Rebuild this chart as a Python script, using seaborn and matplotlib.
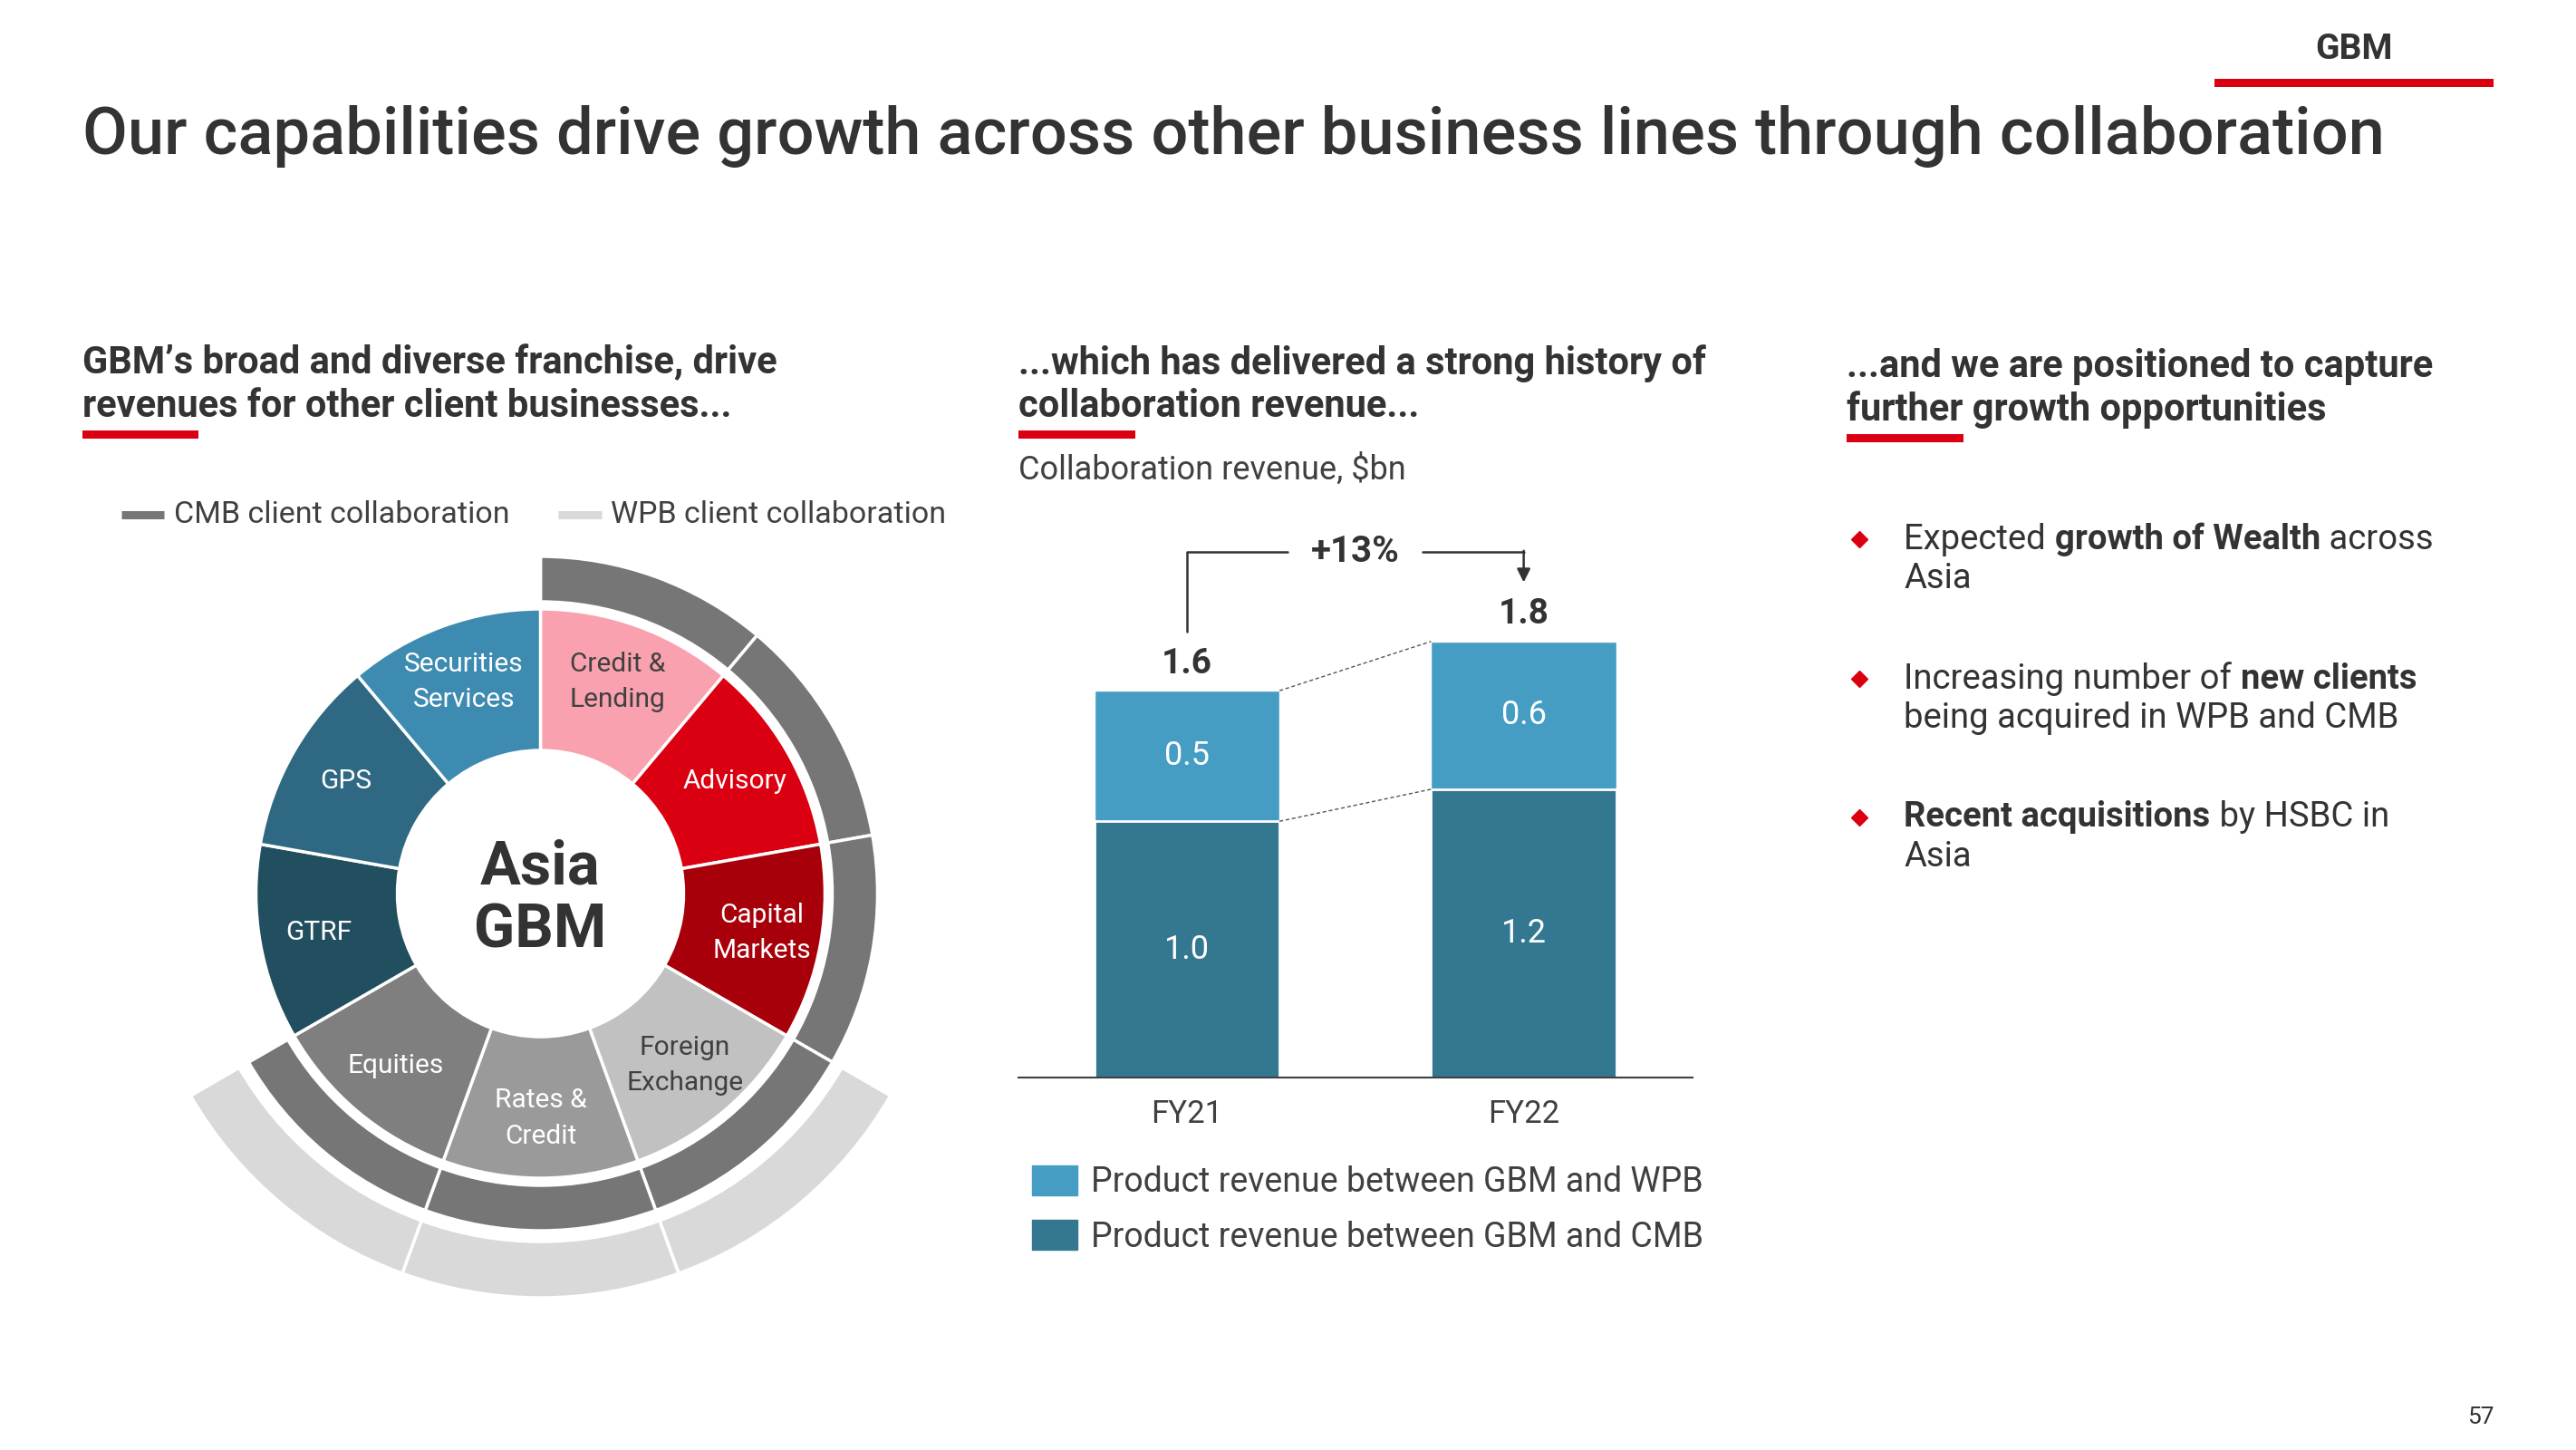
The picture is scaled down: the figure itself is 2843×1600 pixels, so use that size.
import numpy as np
import pandas as pd
import seaborn as sns
import matplotlib.pyplot as plt
from matplotlib.patches import Rectangle, Patch

#%%
# data
segments = ['Credit &\nLending', 'Advisory', 'Capital\nMarkets', 'Foreign\nExchange',
            'Rates &\nCredit', 'Equities', 'GTRF', 'GPS', 'Securities\nServices']
segment_share = [1, 1, 1, 1, 1, 1, 1, 1, 1]
segment_colors = ['#F9A1AE', '#DB0011', '#A8000B', '#C1C1C1', '#9A9A9A',
                  '#7F7F7F', '#224F5F', '#2E6883', '#3D8BB0']
segment_text = ['#404040', 'white', 'white', '#404040', 'white',
                'white', 'white', 'white', 'white']
cmb_collab = [1, 1, 1, 1, 1, 1, 0, 0, 0]
wpb_collab = [0, 0, 0, 1, 1, 1, 0, 0, 0]

years = ['FY21', 'FY22']
cmb_rev = [1.04, 1.17]
wpb_rev = [0.53, 0.60]
cmb_lbl = ['1.0', '1.2']
wpb_lbl = ['0.5', '0.6']
total_lbl = ['1.6', '1.8']

RED = '#DB0011'
DARK = '#333333'
CMB_GREY = '#767676'
WPB_GREY = '#D9D9D9'
WPB_BLUE = '#469DC4'
CMB_BLUE = '#347791'

sns.set_theme(style='white')
plt.rcParams['font.family'] = ['Roboto', 'DejaVu Sans']

fig = plt.figure(figsize=(28.43, 16), dpi=100, facecolor='white')

#%%
# donut: inner franchise ring + CMB / WPB collaboration rings (pixel units)
cx, cy, half = 596.5, 986, 470
ax_d = fig.add_axes([(cx - half) / 2843, 1 - (cy + half) / 1600, 2 * half / 2843, 2 * half / 1600])
ax_d.pie(segment_share, radius=314, colors=segment_colors, startangle=90, counterclock=False,
         wedgeprops=dict(width=156, edgecolor='white', linewidth=2.5))
ax_d.pie(segment_share, radius=372, startangle=90, counterclock=False,
         colors=[CMB_GREY if c else 'none' for c in cmb_collab],
         wedgeprops=dict(width=50, edgecolor='white', linewidth=2.5))
ax_d.pie(segment_share, radius=446, startangle=90, counterclock=False,
         colors=[WPB_GREY if c else 'none' for c in wpb_collab],
         wedgeprops=dict(width=62, edgecolor='white', linewidth=2.5))
ax_d.set_xlim(-half, half)
ax_d.set_ylim(-half, half)
ax_d.axis('off')

cum = np.cumsum(segment_share)
mids = 90 - 360 * (cum - np.array(segment_share) / 2) / cum[-1]
for name, ang, col in zip(segments, mids, segment_text):
    r = 248
    ax_d.text(r * np.cos(np.radians(ang)), r * np.sin(np.radians(ang)), name,
              ha='center', va='center', fontsize=21.5, color=col, linespacing=1.5)
ax_d.text(0, 28, 'Asia', ha='center', va='center', fontsize=48, fontweight='bold', color=DARK)
ax_d.text(0, -42, 'GBM', ha='center', va='center', fontsize=48, fontweight='bold', color=DARK)

#%%
# stacked bar chart of collaboration revenue
ax_b = fig.add_axes([1124 / 2843, 1 - 1189 / 1600, 743.5 / 2843, 609 / 1600])
ax_b.set_facecolor('none')
df = pd.DataFrame({'year': years, 'cmb': cmb_rev, 'wpb': wpb_rev})
df['total'] = df['cmb'] + df['wpb']
bw = 0.55
sns.barplot(data=df, x='year', y='total', color=WPB_BLUE, saturation=1, width=bw, ax=ax_b)
sns.barplot(data=df, x='year', y='cmb', color=CMB_BLUE, saturation=1, width=bw, ax=ax_b,
            edgecolor='white', linewidth=2)
ax_b.plot([bw / 2, 1 - bw / 2], df['total'], ls=(0, (3, 2)), color='#555555', lw=1)
ax_b.plot([bw / 2, 1 - bw / 2], df['cmb'], ls=(0, (3, 2)), color='#555555', lw=1)
for i, row in df.iterrows():
    ax_b.text(i, row['cmb'] / 2, cmb_lbl[i], ha='center', va='center', fontsize=26, color='white')
    ax_b.text(i, row['cmb'] + row['wpb'] / 2, wpb_lbl[i], ha='center', va='center', fontsize=26, color='white')
    ax_b.text(i, row['total'] + 0.11, total_lbl[i], ha='center', va='center', fontsize=28,
              fontweight='bold', color=DARK)

# growth bracket
top = 2.133
growth = (df['total'].iloc[1] / df['total'].iloc[0] - 1) * 100
ax_b.plot([0, 0, 0.30], [df['total'].iloc[0] + 0.24, top, top], color=DARK, lw=1.8)
ax_b.plot([0.70, 1.0], [top, top], color=DARK, lw=1.8)
ax_b.annotate('', xy=(1.0, df['total'].iloc[1] + 0.24), xytext=(1.0, top + 0.005),
              arrowprops=dict(arrowstyle='-|>', color=DARK, lw=1.8, mutation_scale=22,
                              shrinkA=0, shrinkB=0))
ax_b.text(0.5, top, f'+{growth:.0f}%', ha='center', va='center', fontsize=29,
          fontweight='bold', color=DARK)

ax_b.set_xlim(-0.5, 1.5)
ax_b.set_ylim(0, 2.24)
ax_b.set_yticks([])
ax_b.set_xlabel('')
ax_b.set_ylabel('')
sns.despine(ax=ax_b, left=True)
ax_b.spines['bottom'].set_color('#404040')
ax_b.spines['bottom'].set_linewidth(1.5)
ax_b.tick_params(axis='x', length=0, pad=17, labelsize=25, labelcolor='#404040')

fig.legend(handles=[Patch(color=WPB_BLUE, label='Product revenue between GBM and WPB'),
                    Patch(color=CMB_BLUE, label='Product revenue between GBM and CMB')],
           loc='upper left', bbox_to_anchor=(628 / 1568, 1 - 709 / 882), frameon=False,
           fontsize=27, handlelength=1.35, handleheight=0.95, handletextpad=0.4,
           labelspacing=0.62, borderpad=0, borderaxespad=0, labelcolor='#404040')

#%%
# slide text overlay, coordinates in reference pixels
ax_t = fig.add_axes([0, 0, 1, 1])
ax_t.set_facecolor('none')
ax_t.set_xlim(0, 1568)
ax_t.set_ylim(882, 0)
ax_t.axis('off')

def bar(x0, x1, y0, y1):
    ax_t.add_patch(Rectangle((x0, y0), x1 - x0, y1 - y0, color=RED, lw=0))

ax_t.text(1433, 30, 'GBM', ha='center', va='center', fontsize=28, fontweight='bold', color=DARK)
bar(1348, 1518, 48, 53)
ax_t.text(50, 83, 'Our capabilities drive growth across other business lines through collaboration',
          ha='left', va='center', fontsize=52, fontweight='medium', color=DARK)

heads = [(50, 221, ['GBM\u2019s broad and diverse franchise, drive', 'revenues for other client businesses...']),
         (620, 221, ['...which has delivered a strong history of', 'collaboration revenue...']),
         (1124, 223, ['...and we are positioned to capture', 'further growth opportunities'])]
for x, y, lines in heads:
    for k, s in enumerate(lines):
        ax_t.text(x, y + 26 * k, s, ha='left', va='center', fontsize=30, fontweight='bold', color=DARK)
    bar(x, x + 71, y + 41, y + 46)

ax_t.text(620, 286, 'Collaboration revenue, $bn', ha='left', va='center', fontsize=26, color='#404040')

# donut legend
ax_t.plot([74, 100], [313, 313], color=CMB_GREY, lw=6.5, solid_capstyle='butt')
ax_t.text(106, 313, 'CMB client collaboration', ha='left', va='center', fontsize=24.5, color='#404040')
ax_t.plot([340, 366], [313, 313], color=WPB_GREY, lw=6.5, solid_capstyle='butt')
ax_t.text(372, 313, 'WPB client collaboration', ha='left', va='center', fontsize=24.5, color='#404040')

# bullets with mixed weights
bullets = [(328, [[('Expected ', 'normal'), ('growth of Wealth', 'bold'), (' across', 'normal')],
                  [('Asia', 'normal')]]),
           (413, [[('Increasing number of ', 'normal'), ('new clients', 'bold')],
                  [('being acquired in WPB and CMB', 'normal')]]),
           (497, [[('Recent acquisitions', 'bold'), (' by HSBC in', 'normal')],
                  [('Asia', 'normal')]])]
for y, lines in bullets:
    ax_t.plot([1132], [y], marker='D', ms=9, color=RED, ls='none')
    for k, parts in enumerate(lines):
        yy = y + 24 * k
        prev = None
        for s, w in parts:
            if prev is None:
                prev = ax_t.text(1159, yy, s, ha='left', va='center', fontsize=27.5, fontweight=w, color=DARK)
            else:
                prev = ax_t.annotate(s, xy=(1, yy), xycoords=(prev, 'data'), ha='left', va='center',
                                     fontsize=27.5, fontweight=w, color=DARK)

ax_t.text(1510, 862, '57', ha='center', va='center', fontsize=19, color=DARK)

plt.savefig('out.png', dpi=100, facecolor='white')
